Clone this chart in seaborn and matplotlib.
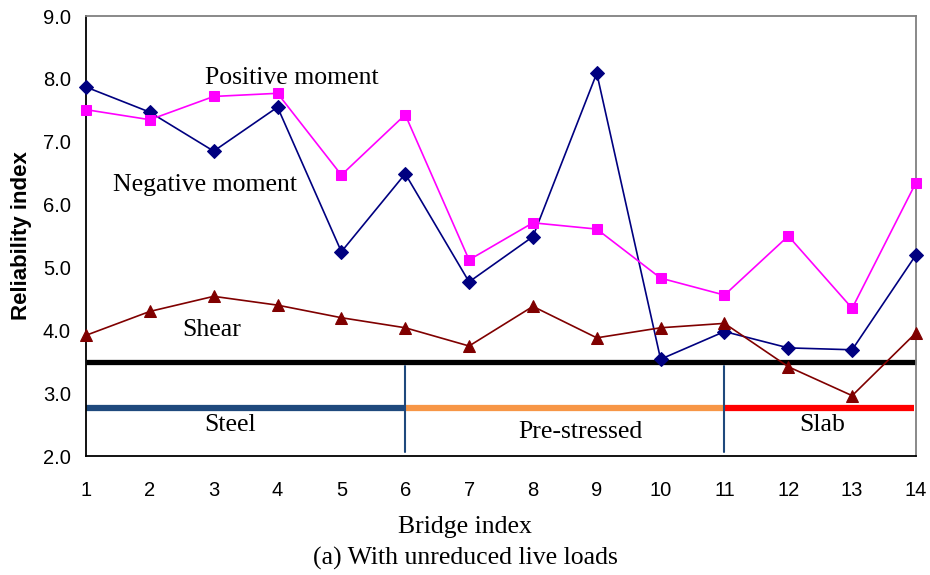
import numpy as np
import pandas as pd
import matplotlib
matplotlib.use("Agg")
import matplotlib.pyplot as plt
import seaborn as sns

bridges = list(range(1, 15))
negative_moment = [7.87, 7.47, 6.85, 7.55, 5.25, 6.49, 4.77, 5.49, 8.09, 3.54, 3.98, 3.72, 3.69, 5.20]
positive_moment = [7.51, 7.35, 7.72, 7.77, 6.47, 7.43, 5.12, 5.71, 5.61, 4.83, 4.56, 5.50, 4.35, 6.35]
shear = [3.92, 4.30, 4.54, 4.40, 4.20, 4.04, 3.75, 4.38, 3.88, 4.04, 4.11, 3.42, 2.96, 3.96]
target_beta = 3.5

groups = ["Steel", "Pre-stressed", "Slab"]
group_start = [1, 6, 11]
group_end = [6, 11, 14]
group_level = 2.77
group_colors = ["#1F497D", "#F79646", "#FF0000"]

sns.set_theme(style="white")
plt.rcParams["font.family"] = ["Liberation Sans", "DejaVu Sans"]
plt.rcParams["text.color"] = "black"

fig = plt.figure(figsize=(9.3, 5.75), dpi=100)
ax = fig.add_axes([86 / 930, 1 - 456 / 575, 830 / 930, 440 / 575])

df = pd.DataFrame({"bridge": bridges, "neg": negative_moment,
                   "pos": positive_moment, "shear": shear})

series = [("neg", "#000080", "D", 7), ("pos", "#FF00FF", "s", 7.5), ("shear", "#800000", "^", 8.5)]
for col, color, marker, size in series:
    sns.lineplot(data=df, x="bridge", y=col, ax=ax, color=color, marker=marker,
                 markersize=size, markeredgecolor=color, linewidth=1.2, clip_on=False,
                 zorder=4)

# target reliability level
ax.plot([bridges[0], bridges[-1]], [target_beta, target_beta], color="black",
        linewidth=3.8, solid_capstyle="butt", zorder=1, clip_on=False)

# bridge type bands
for s, e, c in zip(group_start, group_end, group_colors):
    ax.plot([s, e - (0.03 if e == bridges[-1] else 0)], [group_level, group_level],
            color=c, linewidth=4.5, solid_capstyle="butt", zorder=2)
for b in group_start[1:]:
    ax.plot([b, b], [2.07, 3.43], color="#1F497D", linewidth=1.5, zorder=3)

serif = ["Liberation Serif", "DejaVu Serif"]
labels = [("Positive moment", 4.23, 8.01), ("Negative moment", 2.86, 6.31),
          ("Shear", 2.97, 4.00), ("Steel", 3.25, 2.49),
          ("Pre-stressed", 8.75, 2.38), ("Slab", 12.53, 2.49)]
for txt, x, y in labels:
    ax.text(x, y, txt, family=serif, fontsize=18.5, ha="center", va="center", color="black")

ax.set_xlim(1, 14)
ax.set_ylim(2.0, 9.0)
ax.set_xticks(bridges)
ax.set_yticks(np.arange(2.0, 9.01, 1.0))
ax.set_yticklabels([f"{v:.1f}" for v in np.arange(2.0, 9.01, 1.0)])
ax.tick_params(axis="x", direction="in", length=7, width=1, pad=18, labelsize=14.5, colors="black")
ax.tick_params(axis="y", direction="out", length=7, width=1, pad=4, labelsize=14.5, colors="black")
ax.set_xlabel("")
ax.set_ylabel("Reliability index", fontsize=16, fontweight="bold", labelpad=8, color="black")

for side in ["left", "bottom"]:
    ax.spines[side].set_color("black")
    ax.spines[side].set_linewidth(1.3)
for side in ["top", "right"]:
    ax.spines[side].set_color("#808080")
    ax.spines[side].set_linewidth(1.3)

fig.text(465 / 930, 1 - 527 / 575, "Bridge index", family=serif, fontsize=18.5,
         ha="center", va="center", color="black")
fig.text(465 / 930, 1 - 558 / 575, "(a) With unreduced live loads", family=serif,
         fontsize=18.5, ha="center", va="center", color="black")

fig.savefig("out.png", dpi=100, facecolor="white")
